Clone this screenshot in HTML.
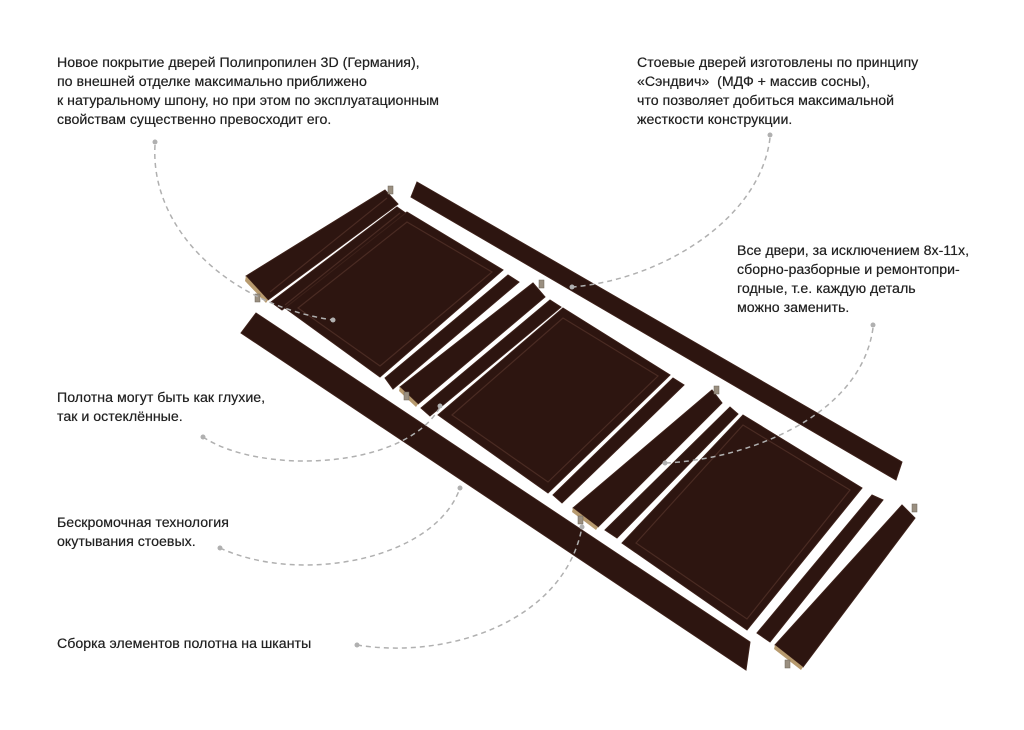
<!DOCTYPE html>
<html><head><meta charset="utf-8">
<style>
html,body{margin:0;padding:0;background:#fff;}
body{width:1024px;height:730px;position:relative;overflow:hidden;font-family:"Liberation Sans","DejaVu Sans",sans-serif;}
.t{position:absolute;font-size:14.2px;line-height:19px;color:#222;white-space:nowrap;text-shadow:0 0 0.4px #222;}
svg{position:absolute;left:0;top:0;}
</style></head><body>
<svg width="1024" height="730" viewBox="0 0 1024 730">
<g fill="#2d1510" stroke="#3d211a" stroke-width="1">
<polygon points="417,182 902,462 896,480 411,197"/>
<polygon points="256,313 750,642 746,670 241,333"/>
<polygon points="246,276 385,190 398,204 268,300"/>
<polygon points="271,302 397,207 407,214 282,310"/>
<polygon points="407,212 503,270 380,377 285,308"/>
<polygon points="385,378 508,275 519,282 393,389"/>
<polygon points="400,387 533,283 545,297 418,404"/>
<polygon points="421,408 550,300 561,307 430,416"/>
<polygon points="563,308 670,375 548,493 438,415"/>
<polygon points="553,495 673,378 684,385 562,503"/>
<polygon points="573,508 712,390 722,403 598,527"/>
<polygon points="605,530 730,407 738,414 617,538"/>
<polygon points="743,415 862,488 747,630 622,543"/>
<polygon points="757,633 872,495 883,500 770,642"/>
<polygon points="775,645 902,505 915,518 803,667"/>
</g>
<g fill="none" stroke="#4a2b23" stroke-width="1.2">
<polygon points="407,222 492,272 380,366 298,308"/>
<polygon points="563,318 658,376 548,482 452,415"/>
<polygon points="743,425 850,490 747,619 636,543"/>
<line x1="270" y1="292" x2="387" y2="198"/>
<line x1="285" y1="305" x2="400" y2="213"/>
</g>
<g fill="#b79a6e">
<polygon points="246,276 268,300 266,303 245,281"/>
<polygon points="400,387 418,404 416,407 399,391"/>
<polygon points="573,508 598,527 596,530 572,512"/>
<polygon points="775,645 803,667 801,670 774,649"/>
</g>
<g fill="#9a8f80" stroke="#6d6559" stroke-width="0.5">
<rect x="388" y="186" width="5" height="8"/>
<rect x="255" y="294" width="5" height="8"/>
<rect x="539" y="280" width="5" height="8"/>
<rect x="404" y="392" width="5" height="8"/>
<rect x="714" y="386" width="5" height="8"/>
<rect x="578" y="516" width="5" height="8"/>
<rect x="912" y="504" width="5" height="8"/>
<rect x="785" y="660" width="5" height="8"/>
</g>
<g fill="none" stroke="#b0b0b0" stroke-width="1.5" stroke-dasharray="5,4">
<path d="M155,145 C150,230 230,305 333,320"/>
<path d="M770,138 C760,220 660,280 572,287"/>
<path d="M873,328 C860,420 740,460 665,463"/>
<path d="M203,437 C260,475 405,470 440,407"/>
<path d="M220,548 C300,585 435,560 460,488"/>
<path d="M357,645 C450,660 565,620 582,527"/>
</g>
<g fill="#b0b0b0">
<circle cx="155" cy="142" r="2.5"/><circle cx="333" cy="320" r="2.5"/>
<circle cx="770" cy="135" r="2.5"/><circle cx="572" cy="287" r="2.5"/>
<circle cx="873" cy="325" r="2.5"/><circle cx="665" cy="463" r="2.5"/>
<circle cx="203" cy="437" r="2.5"/><circle cx="440" cy="406" r="2.5"/>
<circle cx="220" cy="548" r="2.5"/><circle cx="460" cy="488" r="2.5"/>
<circle cx="357" cy="645" r="2.5"/><circle cx="582" cy="527" r="2.5"/>
</g>
</svg>
<div class="t" style="left:57px;top:54px;">Новое покрытие дверей Полипропилен 3D (Германия),<br>по внешней отделке максимально приближено<br>к натуральному шпону, но при этом по эксплуатационным<br>свойствам существенно превосходит его.</div>
<div class="t" style="left:637px;top:54px;">Стоевые дверей изготовлены по принципу<br>«Сэндвич»&nbsp; (МДФ + массив сосны),<br>что позволяет добиться максимальной<br>жесткости конструкции.</div>
<div class="t" style="left:737px;top:242px;">Все двери, за исключением 8х-11х,<br>сборно-разборные и ремонтопри-<br>годные, т.е. каждую деталь<br>можно заменить.</div>
<div class="t" style="left:57px;top:389px;">Полотна могут быть как глухие,<br>так и остеклённые.</div>
<div class="t" style="left:57px;top:514px;">Бескромочная технология<br>окутывания стоевых.</div>
<div class="t" style="left:57px;top:635px;">Сборка элементов полотна на шканты</div>
</body></html>
